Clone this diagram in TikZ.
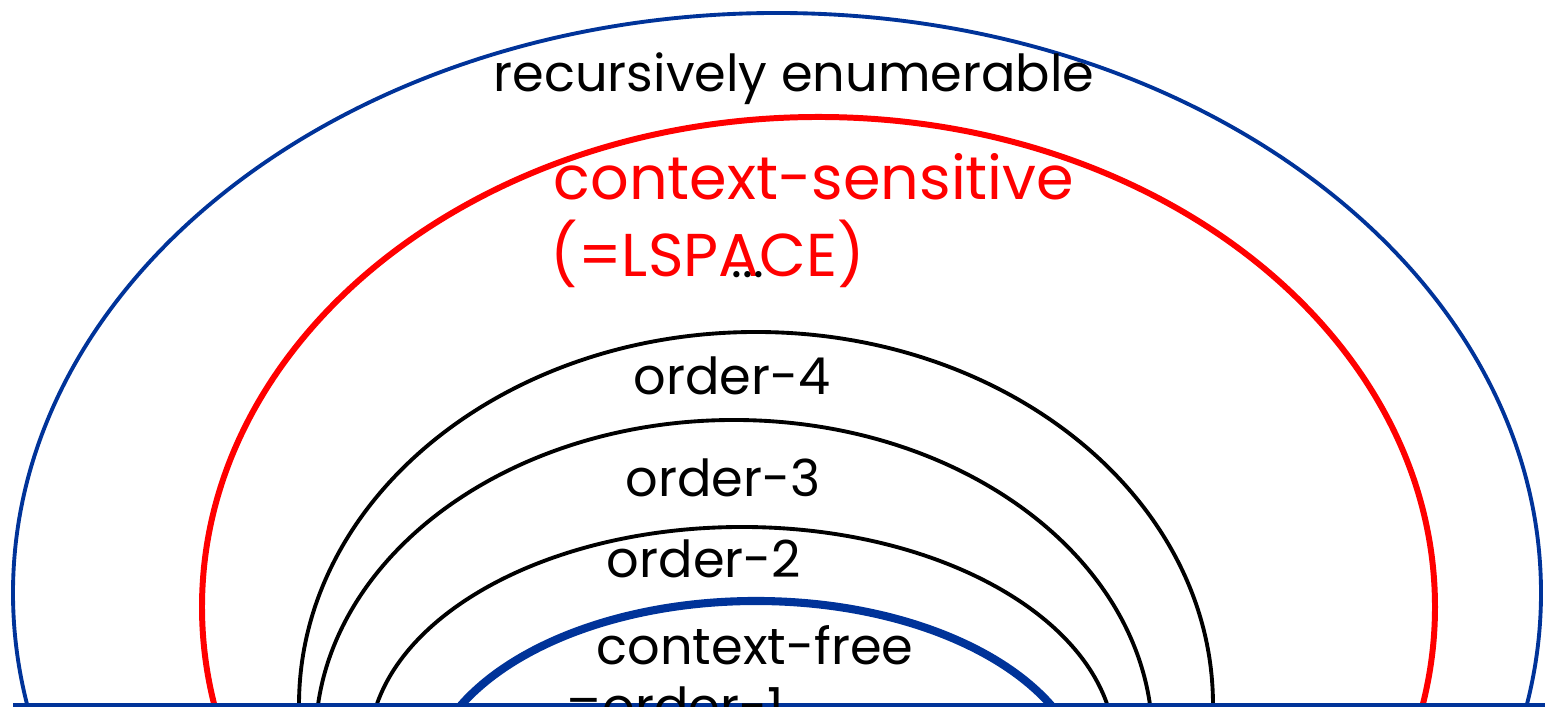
\documentclass[tikz,border=0pt]{standalone}
\usepackage{fontspec}
\setmainfont{Poppins}
\definecolor{reblue}{RGB}{0,51,153}
\tikzset{
    lbl/.style={anchor=base, inner sep=0pt, font=\fontsize{14.5}{17}\selectfont},
    redlbl/.style={anchor=base west, inner sep=0pt, text=red, font=\fontsize{17.2}{20}\selectfont},
    order/.style={line width=1.1pt},
}
\begin{document}
\begin{tikzpicture}[x=0.01cm, y=0.01cm]
    \useasboundingbox (0,0) rectangle (1545,707);

    \begin{scope}
        \clip (0,0) rectangle (1545,707);
        % recursively enumerable
        \draw[reblue, line width=1.1pt] (777,114) ellipse [x radius=764, y radius=580];
        % context-sensitive
        \draw[red, line width=1.7pt] (818.5,100) ellipse [x radius=616.5, y radius=490];
        % order-4, order-3, order-2
        \draw[order] (756,2) ellipse [x radius=457, y radius=373];
        \draw[order] (734,-33) ellipse [x radius=418.5, y radius=320];
        \draw[order] (742,-43) ellipse [x radius=373, y radius=223];
        % context-free
        \draw[reblue, line width=2.3pt] (756,-83) ellipse [x radius=330, y radius=189];
    \end{scope}

    \draw[reblue, line width=0.9pt] (13,2) -- (1545,2);

    \node[lbl] (re) at (794,615) {recursively enumerable};
    \node[redlbl] (cs) at (553,507) {context-sensitive};
    \node[redlbl] (lspace) at (550,430) {(=LSPACE)};
    \node[lbl] (dots) at (748,429) {...};
    \node[lbl] (o4) at (732,312) {order-4};
    \node[lbl] (o3) at (723,210) {order-3};
    \node[lbl] (o2) at (704,129) {order-2};
    \node[lbl] (cf) at (755,42) {context-free};
    \begin{scope}
        \clip (0,0) rectangle (1545,707);
        \node[lbl, anchor=base west] (o1) at (565,-18) {=order-1};
    \end{scope}
\end{tikzpicture}
\end{document}
